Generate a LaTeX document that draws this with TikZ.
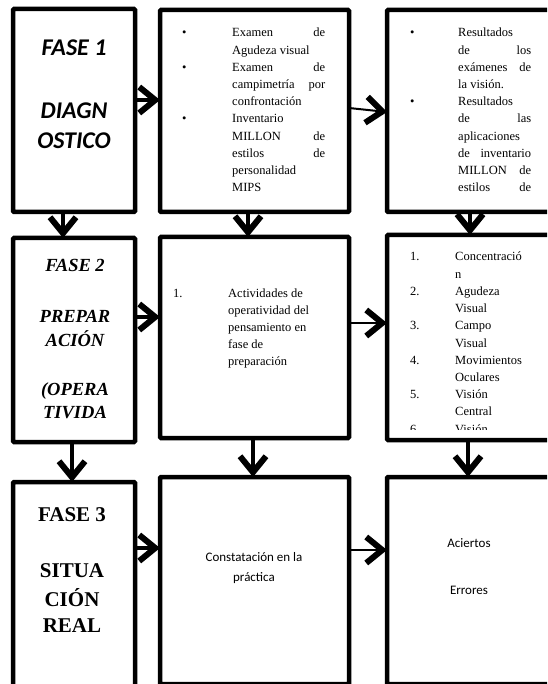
\documentclass[tikz,border=0pt]{standalone}
\usepackage{fontspec}
\setmainfont{Liberation Serif}
\newfontfamily\calfont{Carlito}
\usetikzlibrary{arrows.meta}
\begin{document}
\begin{tikzpicture}[x=1pt,y=-1pt,
  box/.style={draw, line width=4.5pt, rounded corners=1pt, rectangle, inner sep=0pt, outer sep=0pt},
  arr/.style={-{Straight Barb[length=16pt,width=26pt,line width=6pt]}, line width=3.5pt},
  arrthin/.style={arr, line width=2pt},
  txt/.style={anchor=base west, inner sep=0pt, font=\fontsize{12.5}{14}\selectfont},
  calt/.style={inner sep=0pt, font=\calfont\fontsize{13}{15}\selectfont},
  fasea/.style={inner sep=0pt, font=\calfont\bfseries\itshape\fontsize{24}{26}\selectfont},
  faseb/.style={inner sep=0pt, font=\bfseries\itshape\fontsize{18.5}{20}\selectfont},
  fasec/.style={inner sep=0pt, font=\bfseries\fontsize{21}{23}\selectfont}]
\useasboundingbox (0,0) rectangle (547,684);
\clip (0,0) rectangle (547,684);
% boxes
\node[box, minimum width=122pt, minimum height=203pt] (A) at (74,110.5) {};
\node[box, minimum width=189pt, minimum height=202pt] (B) at (254.5,111) {};
\node[box, minimum width=173pt, minimum height=202pt] (C) at (473.5,111) {};
\node[box, minimum width=122pt, minimum height=204pt] (D) at (74,340) {};
\node[box, minimum width=189pt, minimum height=201pt] (E) at (254.5,337.5) {};
\node[box, minimum width=173pt, minimum height=205pt] (F) at (473.5,337.5) {};
\node[box, minimum width=122pt, minimum height=218pt] (G) at (74,591) {};
\node[box, minimum width=189pt, minimum height=207pt] (H) at (254.5,580.5) {};
\node[box, minimum width=173pt, minimum height=207pt] (I) at (473.5,580.5) {};
% arrows
\draw[arr] ([yshift=10.5pt]A.east) -- ([yshift=11pt]B.west);
\draw[arrthin] ([yshift=3pt]B.east) -- ([yshift=-1pt]C.west);
\draw[arr] ([yshift=23pt]D.east) -- ([yshift=20.5pt]E.west);
\draw[arrthin] ([yshift=14.5pt]E.east) -- ([yshift=14.5pt]F.west);
\draw[arr] ([yshift=43pt]G.east) -- ([yshift=32.5pt]H.west);
\draw[arrthin] ([yshift=30.5pt]H.east) -- ([yshift=30.5pt]I.west);
\draw[arr] ([xshift=-11pt]A.south) -- ([xshift=-11pt]D.north);
\draw[arr] ([xshift=-6.5pt]B.south) -- ([xshift=-6.5pt]E.north);
\draw[arr] ([xshift=-3.5pt]C.south) -- ([xshift=-3.5pt]F.north);
\draw[arr] ([xshift=-2pt]D.south) -- ([xshift=-2pt]G.north);
\draw[arr] ([xshift=-1.5pt]E.south) -- ([xshift=-1.5pt]H.north);
\draw[arr] ([xshift=-5.5pt]F.south) -- ([xshift=-5.5pt]I.north);
% Box A text
\node[fasea] (a1) at (74,48) {FASE 1};
\node[fasea] (a2) at (74,111) {DIAGN};
\node[fasea] (a3) at (74,141) {OSTICO};
% Box B text
\node[txt] (bb1) at (182,37) {•};
\node[txt] (bb2) at (182,71.4) {•};
\node[txt] (bb3) at (182,123) {•};
\node[txt] (b1) at (232,37) {\makebox[93pt][l]{Examen\hfill de}};
\node[txt] (b2) at (232,54.2) {Agudeza visual};
\node[txt] (b3) at (232,71.4) {\makebox[93pt][l]{Examen\hfill de}};
\node[txt] (b4) at (232,88.6) {\makebox[93pt][l]{campimetría\hfill por}};
\node[txt] (b5) at (232,105.8) {confrontación};
\node[txt] (b6) at (232,123) {Inventario};
\node[txt] (b7) at (232,140.2) {\makebox[93pt][l]{MILLON\hfill de}};
\node[txt] (b8) at (232,157.4) {\makebox[93pt][l]{estilos\hfill de}};
\node[txt] (b9) at (232,174.6) {personalidad};
\node[txt] (b10) at (232,191.8) {MIPS};
% Box C text
\node[txt] (cb1) at (410,37) {•};
\node[txt] (cb2) at (410,105.8) {•};
\node[txt] (c1) at (458,37) {Resultados};
\node[txt] (c2) at (458,54.2) {\makebox[73pt][l]{de\hfill los}};
\node[txt] (c3) at (458,71.4) {\makebox[73pt][l]{exámenes\hfill de}};
\node[txt] (c4) at (458,88.6) {la visión.};
\node[txt] (c5) at (458,105.8) {Resultados};
\node[txt] (c6) at (458,123) {\makebox[73pt][l]{de\hfill las}};
\node[txt] (c7) at (458,140.2) {aplicaciones};
\node[txt] (c8) at (458,157.4) {\makebox[73pt][l]{de\hfill inventario}};
\node[txt] (c9) at (458,174.6) {\makebox[73pt][l]{MILLON\hfill de}};
\node[txt] (c10) at (458,191.8) {\makebox[73pt][l]{estilos\hfill de}};
% Box D text
\node[faseb] (d1) at (75,265) {FASE 2};
\node[faseb] (d2) at (75,316) {PREPAR};
\node[faseb] (d3) at (75,339) {ACIÓN};
\node[faseb] (d4) at (75,391) {(OPERA};
\node[faseb] (d5) at (75,413) {TIVIDA};
% Box E text
\node[txt] (en) at (173,297) {1.};
\node[txt] (e1) at (228,297) {Actividades de};
\node[txt] (e2) at (228,314.2) {operatividad del};
\node[txt] (e3) at (228,331.4) {pensamiento en};
\node[txt] (e4) at (228,348.6) {fase de};
\node[txt] (e5) at (228,365.8) {preparación};
% Box F text
\begin{scope}
\clip (390,240) rectangle (547,429);
\node[txt] (fn1) at (410,261) {1.};
\node[txt] (f1) at (455,261) {Concentració};
\node[txt] (f2) at (455,278.2) {n};
\node[txt] (fn2) at (410,295.4) {2.};
\node[txt] (f3) at (455,295.4) {Agudeza};
\node[txt] (f4) at (455,312.6) {Visual};
\node[txt] (fn3) at (410,329.8) {3.};
\node[txt] (f5) at (455,329.8) {Campo};
\node[txt] (f6) at (455,347) {Visual};
\node[txt] (fn4) at (410,364.2) {4.};
\node[txt] (f7) at (455,364.2) {Movimientos};
\node[txt] (f8) at (455,381.4) {Oculares};
\node[txt] (fn5) at (410,398.6) {5.};
\node[txt] (f9) at (455,398.6) {Visión};
\node[txt] (f10) at (455,415.8) {Central};
\node[txt] (fn6) at (410,433) {6.};
\node[txt] (f11) at (455,433) {Visión};
\end{scope}
% Box G text
\node[fasec] (g1) at (72,515) {FASE 3};
\node[fasec] (g2) at (72,571) {SITUA};
\node[fasec] (g3) at (72,598) {CIÓN};
\node[fasec] (g4) at (72,626) {REAL};
% Box H text
\node[calt] (h1) at (254,557) {Constatación en la};
\node[calt] (h2) at (254,578) {práctica};
% Box I text
\node[calt] (i1) at (469,543) {Aciertos};
\node[calt] (i2) at (469,590) {Errores};
\end{tikzpicture}
\end{document}
